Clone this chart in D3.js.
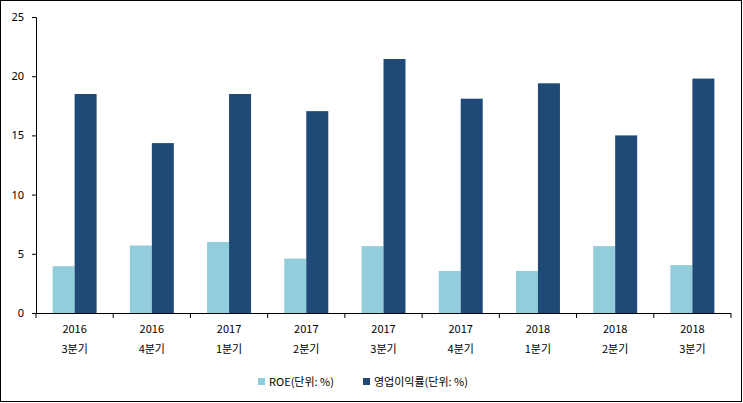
<!DOCTYPE html><html><head><meta charset="utf-8">
<script src="https://cdn.jsdelivr.net/npm/d3@7"></script>
<style>body{margin:0;background:#fff}text{font-family:"Noto Sans CJK KR","Noto Sans",sans-serif;font-size:11px;fill:#000}</style>
</head><body><svg id="c" width="743" height="403"></svg>
<script>
const years=["2016","2016","2017","2017","2017","2017","2018","2018","2018"];
const quarters=["3분기","4분기","1분기","2분기","3분기","4분기","1분기","2분기","3분기"];
const roe=[3.95,5.7,6.0,4.6,5.65,3.55,3.55,5.65,4.05];
const opMargin=[18.5,14.35,18.5,17.05,21.45,18.1,19.4,15.0,19.8];
const yTicks=[0,5,10,15,20,25];
const seriesNames=["ROE(단위: %)","영업이익률(단위: %)"];
const colors=["#92CDDC","#1F4A78"];
const svg=d3.select("#c");
svg.append("rect").attr("x",0.5).attr("y",0.5).attr("width",741).attr("height",401).attr("fill","#fff").attr("stroke","#000");
const L=36,R=731,T=17,B=313;
const x=d3.scaleBand().domain(d3.range(9)).range([L,R]);
const y=d3.scaleLinear().domain([0,25]).range([B,T]);
const bw=22;
const g=svg.append("g");
[roe,opMargin].forEach((arr,s)=>{
 g.selectAll(null).data(arr).enter().append("rect")
  .attr("x",(d,i)=>x(i)+x.bandwidth()/2-bw+s*bw).attr("width",bw)
  .attr("y",d=>y(d)).attr("height",d=>B-y(d)).attr("fill",colors[s]);
});
const ya=svg.append("g").attr("transform",`translate(${L},0)`).call(d3.axisLeft(y).tickValues(yTicks).tickSize(4).tickPadding(8));
ya.select(".domain").attr("stroke","#000");ya.selectAll("text").style("font-family","'Noto Sans',sans-serif").style("font-size","11px");
svg.append("line").attr("x1",L).attr("x2",R).attr("y1",B+0.5).attr("y2",B+0.5).attr("stroke","#000");
d3.range(10).forEach(i=>{const xx=i<9?x(i):R;svg.append("line").attr("x1",xx).attr("x2",xx).attr("y1",B).attr("y2",B+5).attr("stroke","#000");});
years.forEach((yr,i)=>{
 const cx=x(i)+x.bandwidth()/2;
 svg.append("text").attr("x",cx).attr("y",333).attr("text-anchor","middle").text(yr);
 svg.append("text").attr("x",cx).attr("y",353).attr("text-anchor","middle").text(quarters[i]);
});
const lx=[258,363];
seriesNames.forEach((n,i)=>{
 svg.append("rect").attr("x",lx[i]).attr("y",378).attr("width",7).attr("height",7).attr("fill",colors[i]);
 svg.append("text").attr("x",lx[i]+11).attr("y",386).text(n);
});
</script></body></html>
